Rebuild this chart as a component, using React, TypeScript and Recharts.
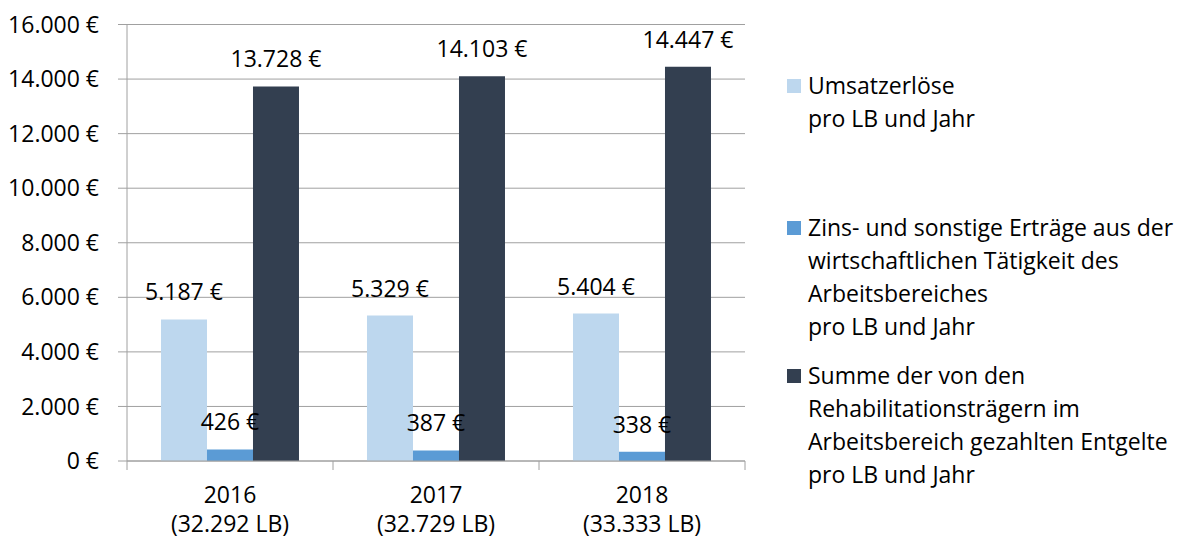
import React from "react";
import { BarChart, Bar, XAxis, YAxis, CartesianGrid, Legend, LabelList } from "recharts";

const years = ["2016", "2017", "2018"];
const lbCounts = ["(32.292 LB)", "(32.729 LB)", "(33.333 LB)"];
const umsatz = [5187, 5329, 5404];
const zinsErtraege = [426, 387, 338];
const entgelte = [13728, 14103, 14447];
const yTicks = [0, 2000, 4000, 6000, 8000, 10000, 12000, 14000, 16000];

const seriesNames = [
  "Umsatzerlöse\npro LB und Jahr",
  "Zins- und sonstige Erträge aus der\nwirtschaftlichen Tätigkeit des\nArbeitsbereiches\npro LB und Jahr",
  "Summe der von den\nRehabilitationsträgern im\nArbeitsbereich gezahlten Entgelte\npro LB und Jahr",
];
const colors = ["#BDD7EE", "#5B9BD5", "#333F50"];

const data = years.map((y, i) => ({
  year: y,
  lb: lbCounts[i],
  umsatz: umsatz[i],
  zins: zinsErtraege[i],
  entgelte: entgelte[i],
}));

const FONT = "'Open Sans', sans-serif";
const GRID = "#a0a0a0";

// German thousands separator
const euro = (v: number) => String(v).replace(/\B(?=(\d{3})+(?!\d))/g, ".") + " €";

function CategoryTick(props: any) {
  const { x, y, payload, width, visibleTicksCount, index } = props;
  const half = payload?.offset ?? width / visibleTicksCount / 2;
  const row = data[index];
  return (
    <g>
      <line x1={x - half} y1={y} x2={x - half} y2={y + 9} stroke={GRID} />
      {index === visibleTicksCount - 1 && <line x1={x + half} y1={y} x2={x + half} y2={y + 9} stroke={GRID} />}
      <text x={x} y={y + 42} textAnchor="middle" fontSize={23} fill="#000" fontFamily={FONT}>
        {payload.value}
      </text>
      <text x={x} y={y + 71} textAnchor="middle" fontSize={23} fill="#000" fontFamily={FONT}>
        {row ? row.lb : ""}
      </text>
    </g>
  );
}

function ValueLabel(props: any) {
  const { x, y, width, value } = props;
  return (
    <text x={x + width / 2} y={y - 19} textAnchor="middle" fontSize={23} fill="#000" fontFamily={FONT}>
      {euro(value)}
    </text>
  );
}

const itemGaps = [44, 76, 16];

function LegendContent() {
  return (
    <div style={{ paddingLeft: 42, fontFamily: FONT, fontSize: 23, color: "#000" }}>
      {seriesNames.map((name, i) => (
        <div key={i} style={{ display: "flex", alignItems: "flex-start", marginTop: itemGaps[i] }}>
          <div style={{ width: 14, height: 14, background: colors[i], marginTop: 10, marginRight: 7, flexShrink: 0 }} />
          <div style={{ whiteSpace: "pre-line", lineHeight: "33px" }}>{name}</div>
        </div>
      ))}
    </div>
  );
}

export default function App() {
  return (
    <div style={{ position: "absolute", left: 0, top: 0, background: "#fff" }}>
      <BarChart
        width={1182}
        height={540}
        data={data}
        margin={{ top: 24.5, right: 0, left: 0, bottom: 0 }}
        barCategoryGap="16.5%"
        barGap={0}
      >
        <CartesianGrid vertical={false} stroke={GRID} />
        <XAxis
          dataKey="year"
          height={79}
          stroke={GRID}
          tickLine={false}
          tickSize={0}
          tickMargin={0}
          tick={<CategoryTick />}
          interval={0}
        />
        <YAxis
          width={127}
          domain={[0, 16000]}
          ticks={yTicks}
          stroke={GRID}
          tickSize={9}
          tickMargin={19}
          tickFormatter={euro}
          tick={{ fill: "#000", fontSize: 23, fontFamily: FONT }}
        />
        <Legend
          layout="vertical"
          align="right"
          verticalAlign="top"
          width={437}
          content={<LegendContent />}
        />
        <Bar dataKey="umsatz" fill={colors[0]} isAnimationActive={false}>
          <LabelList dataKey="umsatz" content={<ValueLabel />} />
        </Bar>
        <Bar dataKey="zins" fill={colors[1]} isAnimationActive={false}>
          <LabelList dataKey="zins" content={<ValueLabel />} />
        </Bar>
        <Bar dataKey="entgelte" fill={colors[2]} isAnimationActive={false}>
          <LabelList dataKey="entgelte" content={<ValueLabel />} />
        </Bar>
      </BarChart>
    </div>
  );
}
